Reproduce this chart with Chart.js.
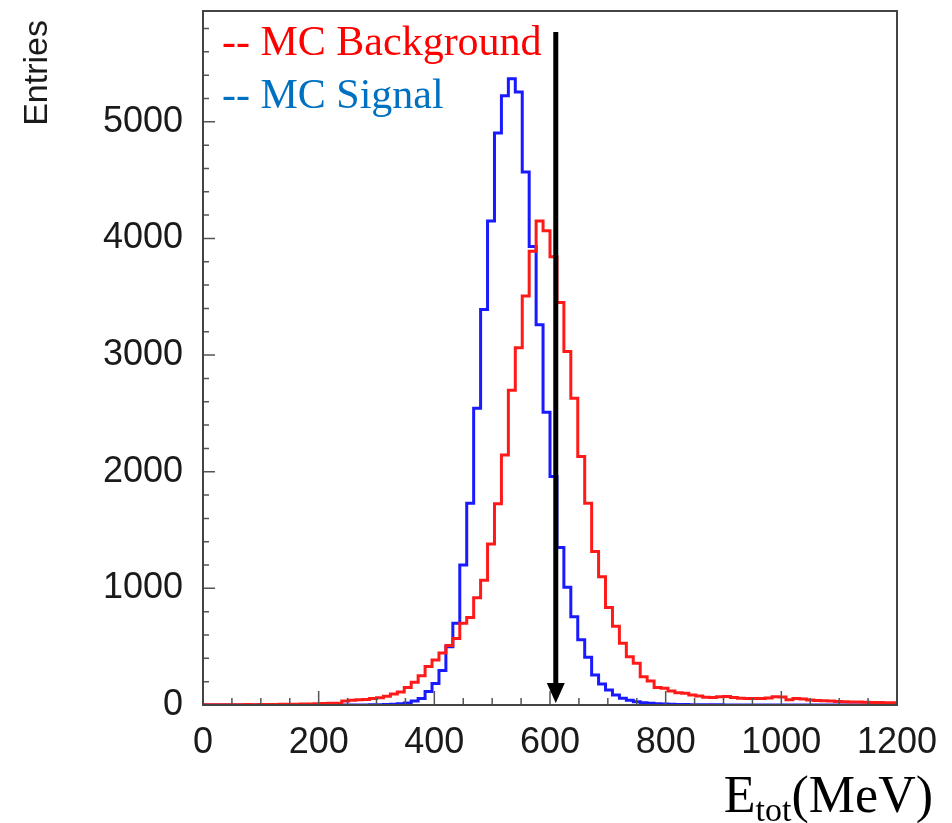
<!DOCTYPE html>
<html>
<head>
<meta charset="utf-8">
<script src="https://cdn.jsdelivr.net/npm/chart.js@4.4.0/dist/chart.umd.min.js"></script>
<style>
	html, body { margin: 0; padding: 0; background: #fff; }
	#wrap { width: 952px; height: 823px; }
</style>
</head>
<body>
<div id="wrap"><canvas id="histChart" width="952" height="823"></canvas></div>
<script>
// 100 bins of 12 MeV from 0 to 1200 MeV
const binWidth = 12;
const xTicks = [0, 200, 400, 600, 800, 1000, 1200];
const yTicks = [0, 1000, 2000, 3000, 4000, 5000];
const cutValue = 610;
const cutTop = 5770;

const backgroundCounts = [
	2, 2, 3, 2, 3, 3, 4, 3, 4, 5,
	5, 6, 6, 7, 8, 9, 10, 12, 14, 16,
	35, 40, 45, 48, 55, 62, 75, 94, 112, 150,
	195, 250, 330, 385, 445, 510, 570, 700, 750, 920,
	1070, 1380, 1726, 2144, 2698, 3063, 3506, 3890, 4150, 4065,
	3843, 3450, 3030, 2630, 2130, 1730, 1315, 1100, 836, 675,
	529, 414, 357, 243, 205, 150, 143, 120, 105, 100,
	85, 77, 66, 64, 70, 72, 65, 58, 56, 55,
	55, 60, 70, 68, 45, 55, 52, 42, 38, 36,
	34, 30, 28, 26, 25, 24, 22, 22, 20, 20,
];

const signalCounts = [
	0, 0, 0, 0, 0, 0, 0, 0, 0, 0,
	0, 0, 0, 0, 0, 0, 0, 0, 0, 0,
	0, 0, 1, 1, 2, 3, 5, 7, 10, 18,
	35, 55, 115, 185, 295, 500, 700, 1200, 1730, 2545,
	3390, 4150, 4903, 5223, 5370, 5255, 4570, 3930, 3260, 2510,
	1960, 1350, 1010, 757, 560, 410, 257, 180, 129, 86,
	57, 40, 28, 20, 14, 10, 8, 6, 5, 4,
	3, 3, 2, 2, 2, 1, 1, 0, 0, 0,
	0, 0, 0, 0, 0, 0, 0, 0, 0, 0,
	0, 0, 0, 0, 0, 0, 0, 0, 0, 0,
];

const sansFont = '"Liberation Sans", Arial, sans-serif';
const serifFont = '"Liberation Serif", "Times New Roman", serif';

// points at the left bin edges, plus the closing edge
function toSteps(counts) {
	const pts = counts.map((c, i) => ({ x: i * binWidth, y: c }));
	pts.push({ x: counts.length * binWidth, y: counts[counts.length - 1] });
	return pts;
}

// keep the plot frame where the layout padding puts it
function fixBox(s, key, size) {
	s[key] = size;
	s.paddingTop = 0;
	s.paddingBottom = 0;
	s.paddingLeft = 0;
	s.paddingRight = 0;
}

const frameAndLabels = {
	id: 'frameAndLabels',
	afterDraw(chart) {
		const { ctx, chartArea: a, scales: { x, y } } = chart;
		ctx.save();

		// inner ticks
		ctx.strokeStyle = '#555';
		ctx.lineWidth = 1.5;
		ctx.beginPath();
		for (let v = 0; v <= 1200; v += 50) {
			const px = x.getPixelForValue(v);
			const len = v % 200 === 0 ? 14 : 7;
			ctx.moveTo(px, a.bottom);
			ctx.lineTo(px, a.bottom - len);
		}
		for (let v = 0; v <= 5800; v += 200) {
			const py = y.getPixelForValue(v);
			const len = v % 1000 === 0 ? 12 : 6;
			ctx.moveTo(a.left, py);
			ctx.lineTo(a.left + len, py);
		}
		ctx.stroke();

		// frame
		ctx.strokeStyle = '#444';
		ctx.lineWidth = 2;
		ctx.strokeRect(a.left, a.top, a.right - a.left, a.bottom - a.top);

		// cut arrow
		const ax = x.getPixelForValue(cutValue);
		const tip = y.getPixelForValue(0) - 2;
		ctx.strokeStyle = '#000';
		ctx.lineWidth = 5;
		ctx.beginPath();
		ctx.moveTo(ax, y.getPixelForValue(cutTop));
		ctx.lineTo(ax, tip - 18);
		ctx.stroke();
		ctx.fillStyle = '#000';
		ctx.beginPath();
		ctx.moveTo(ax - 9, tip - 20);
		ctx.lineTo(ax + 9, tip - 20);
		ctx.lineTo(ax, tip);
		ctx.closePath();
		ctx.fill();

		// legend text
		ctx.textAlign = 'left';
		ctx.textBaseline = 'alphabetic';
		ctx.font = '42px ' + serifFont;
		ctx.fillStyle = '#ff0000';
		ctx.fillText('-- MC Background', 222, 55);
		ctx.fillStyle = '#0070c0';
		ctx.fillText('-- MC Signal', 222, 108);

		// y title
		ctx.save();
		ctx.translate(47, 20);
		ctx.rotate(-Math.PI / 2);
		ctx.textAlign = 'right';
		ctx.fillStyle = '#1a1a1a';
		ctx.font = '34px ' + sansFont;
		ctx.fillText('Entries', 0, 0);
		ctx.restore();

		// x title E_tot(MeV)
		ctx.fillStyle = '#000';
		ctx.font = '52px ' + serifFont;
		const wE = ctx.measureText('E').width;
		const wUnit = ctx.measureText('(MeV)').width;
		ctx.font = '34px ' + serifFont;
		const wSub = ctx.measureText('tot').width;
		let tx = 933 - wE - wSub - wUnit;
		ctx.font = '52px ' + serifFont;
		ctx.fillText('E', tx, 812);
		tx += wE;
		ctx.font = '34px ' + serifFont;
		ctx.fillText('tot', tx, 821);
		tx += wSub;
		ctx.font = '52px ' + serifFont;
		ctx.fillText('(MeV)', tx, 812);

		ctx.restore();
	},
};

new Chart(document.getElementById('histChart').getContext('2d'), {
	type: 'line',
	data: {
		datasets: [
			{
				label: 'MC Background',
				data: toSteps(backgroundCounts),
				borderColor: '#ff1a1a',
				borderWidth: 3,
				stepped: true,
				pointRadius: 0,
				fill: false,
			},
			{
				label: 'MC Signal',
				data: toSteps(signalCounts),
				borderColor: '#1a1aff',
				borderWidth: 3,
				stepped: true,
				pointRadius: 0,
				fill: false,
			},
		],
	},
	options: {
		responsive: false,
		animation: false,
		parsing: false,
		layout: { padding: { top: 11, right: 55, left: 0, bottom: 0 } },
		plugins: {
			legend: { display: false },
			tooltip: { enabled: false },
		},
		scales: {
			x: {
				type: 'linear',
				min: 0,
				max: 1200,
				grid: { display: false, drawTicks: false },
				border: { display: false },
				afterBuildTicks: (s) => { s.ticks = xTicks.map((v) => ({ value: v })); },
				afterFit: (s) => fixBox(s, 'height', 118),
				ticks: {
					autoSkip: false,
					maxRotation: 0,
					padding: 16,
					color: '#1a1a1a',
					font: { family: sansFont, size: 36 },
					callback: (v) => String(v),
				},
			},
			y: {
				min: 0,
				max: 5950,
				grid: { display: false, drawTicks: false },
				border: { display: false },
				afterBuildTicks: (s) => { s.ticks = yTicks.map((v) => ({ value: v })); },
				afterFit: (s) => fixBox(s, 'width', 203),
				ticks: {
					padding: 20,
					color: '#1a1a1a',
					font: { family: sansFont, size: 36 },
					callback: (v) => String(v),
				},
			},
		},
	},
	plugins: [frameAndLabels],
});
</script>
</body>
</html>
